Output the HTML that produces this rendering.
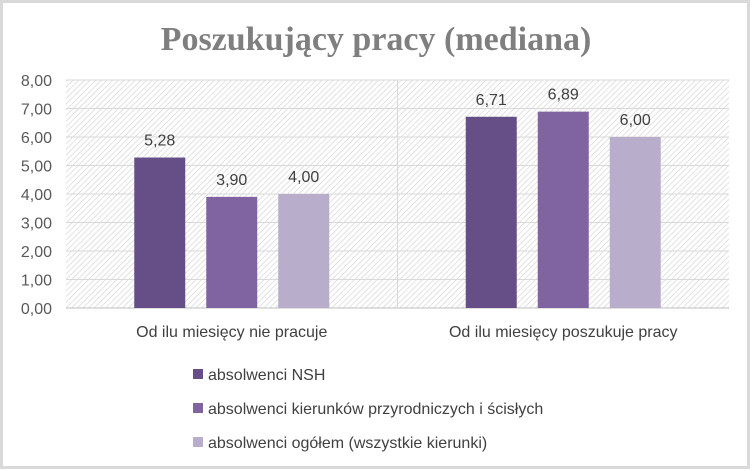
<!DOCTYPE html>
<html><head><meta charset="utf-8"><style>
html,body{margin:0;padding:0;background:#fff}
svg{display:block;font-family:"Liberation Sans",sans-serif}
</style></head><body>
<svg id="chart" width="752" height="471" viewBox="0 0 752 471" xmlns="http://www.w3.org/2000/svg">
<defs>
<pattern id="hatch" patternUnits="userSpaceOnUse" width="4" height="4" patternTransform="rotate(45)">
<rect width="4" height="4" fill="#fff"/><line x1="0" y1="0" x2="0" y2="4" stroke="#d6d6d6" stroke-width="1.4"/>
</pattern>
</defs>
<rect x="1.5" y="1.5" width="747" height="466" fill="#fff" stroke="#d9d9d9" stroke-width="3"/>
<text x="376" y="50" text-anchor="middle" font-family="Liberation Serif,serif" font-weight="bold" font-size="34" fill="#7f7f7f">Poszukujący pracy (mediana)</text>
<rect x="66" y="80" width="663" height="228" fill="url(#hatch)"/>
<g id="grid"></g><g id="bars"></g><g id="labels"></g><g id="legend"></g>
</svg>
<script>
const categories=["Od ilu miesięcy nie pracuje","Od ilu miesięcy poszukuje pracy"];
const seriesNames=["absolwenci NSH","absolwenci kierunków przyrodniczych i ścisłych","absolwenci ogółem (wszystkie kierunki)"];
const nsh=[5.28,6.71];
const przyr=[3.90,6.89];
const ogolem=[4.00,6.00];
const yTicks=[0,1,2,3,4,5,6,7,8];
const colors=["#664f87","#8064a2","#b8aecb"];
const series=[nsh,przyr,ogolem];
const NS="http://www.w3.org/2000/svg";
const x0=66,x1=729,yTop=80,yBot=308,yMax=8;
const y=v=>yBot-(v/yMax)*(yBot-yTop);
const gw=(x1-x0)/categories.length;
function mk(tag,attrs,parent){const e=document.createElementNS(NS,tag);for(const k in attrs)e.setAttribute(k,attrs[k]);parent.appendChild(e);return e;}
const grid=document.getElementById('grid'),bars=document.getElementById('bars'),labels=document.getElementById('labels'),legend=document.getElementById('legend');
yTicks.forEach(t=>{
 const l=mk('line',{x1:x0,x2:x1,y1:y(t),y2:y(t),stroke:t===0?'#bfbfbf':'#d9d9d9','stroke-width':1},grid);
 
 
 const tx=mk('text',{x:52,y:y(t)+6,'text-anchor':'end','font-size':16,fill:'#595959'},labels);
 tx.textContent=t.toFixed(2).replace('.',',');
 
 
});
const sep=mk('line',{x1:x0+gw,x2:x0+gw,y1:yTop,y2:yBot,stroke:'#d9d9d9'},grid);


const bw=51,gap=21;
categories.forEach((c,i)=>{
 const cx=x0+gw*i+gw/2;
 const tot=3*bw+2*gap;
 series.forEach((s,j)=>{
  const bx=cx-tot/2+j*(bw+gap);
  const r=mk('rect',{x:bx,y:y(s[i]),width:bw,height:yBot-y(s[i]),fill:colors[j]},bars);
  
  
  const v=mk('text',{x:bx+bw/2,y:y(s[i])-12,'text-anchor':'middle','font-size':16,fill:'#404040'},labels);
  v.textContent=s[i].toFixed(2).replace('.',',');
  
  
 });
 const cl=mk('text',{x:cx,y:337,'text-anchor':'middle','font-size':16,fill:'#404040'},labels);
 cl.textContent=c;
 
 
});
seriesNames.forEach((n,j)=>{
 const ly=374+j*34;
 const g=mk('g',{},legend);
 
 
 mk('rect',{x:193,y:ly-5,width:10,height:10,fill:colors[j]},g);
 const t=mk('text',{x:208,y:ly+6,'font-size':16,fill:'#404040'},g);
 t.textContent=n;
});
</script>
</body></html>
